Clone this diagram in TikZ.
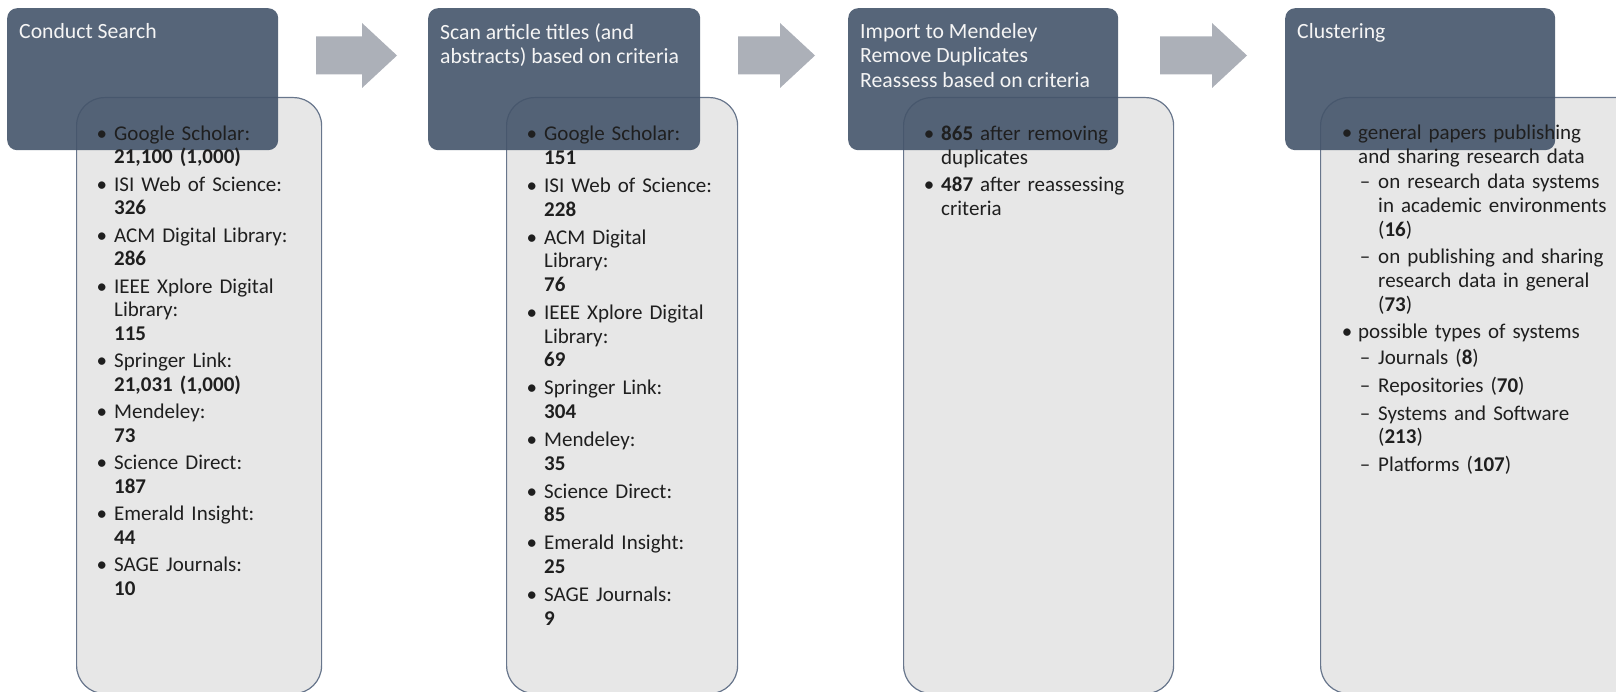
\documentclass[tikz,border=0pt]{standalone}
\usepackage{fontspec}
\setmainfont{Carlito}
\usepackage{enumitem}

\definecolor{headblue}{RGB}{68,84,106}
\definecolor{listgray}{RGB}{231,231,231}
\definecolor{listline}{RGB}{104,118,140}
\definecolor{arrowgray}{RGB}{172,176,184}

% lists inside the grey boxes
\setlist[itemize]{nosep, itemsep=3.8pt, leftmargin=38pt, labelsep=7pt, label=\textbullet}
\setlist[itemize,2]{nosep, topsep=2pt, itemsep=4.2pt, leftmargin=20pt, labelsep=8pt, label=--}

\tikzset{
  headbox/.style={fill=headblue, fill opacity=0.9, rounded corners=10pt, anchor=north west,
    inner sep=0pt, minimum height=142pt},
  headtext/.style={text=white!96!black, anchor=north west, inner sep=0pt, align=left,
    font=\fontsize{21.7}{24.4}\selectfont},
  listbox/.style={draw=listline, line width=1.2pt, fill=listgray, rounded corners=28pt,
    anchor=north west, inner sep=0pt, minimum height=596pt},
  listtext/.style={anchor=north west, inner sep=0pt, text width=#1, text=black!88,
    font=\fontsize{21}{23.6}\selectfont},
  blockarrow/.pic={
    \fill[arrowgray] (0,-19) -- (#1-35,-19) -- (#1-35,-32.5) -- (#1,0)
      -- (#1-35,32.5) -- (#1-35,19) -- (0,19) -- cycle;
  }
}

\begin{document}
\begin{tikzpicture}[x=1pt, y=-1pt]
\useasboundingbox (0,0) rectangle (1616,692);
\clip (0,0) rectangle (1616,692);

% grey result boxes (behind the headers)
\node[listbox, minimum width=245pt] (list1) at (76,97) {};
\node[listbox, minimum width=231pt] (list2) at (506,97) {};
\node[listbox, minimum width=270pt] (list3) at (903,97) {};
\node[listbox, minimum width=330pt] (list4) at (1320,97) {};

% step headers
\node[headbox, minimum width=271pt] (head1) at (7,8) {};
\node[headbox, minimum width=272pt] (head2) at (428,8) {};
\node[headbox, minimum width=270pt] (head3) at (848,8) {};
\node[headbox, minimum width=270pt] (head4) at (1285,8) {};

\node[headtext] (title1) at ([shift={(12,15)}]head1.north west) {Conduct Search};
\node[headtext] (title2) at ([shift={(12,15)}]head2.north west)
  {Scan article titles (and\\abstracts) based on criteria};
\node[headtext] (title3) at ([shift={(12,15)}]head3.north west)
  {Import to Mendeley\\Remove Duplicates\\Reassess based on criteria};
\node[headtext] (title4) at ([shift={(12,15)}]head4.north west) {Clustering};

% arrows between the steps
\pic at (316,55.5) {blockarrow=81};
\pic at (738,55.5) {blockarrow=77};
\pic at (1160,55.5) {blockarrow=87};

% counts per source
\node[listtext=235pt] (items1) at ([shift={(0,19.5)}]list1.north west) {%
\begin{itemize}
\item Google Scholar:\\\textbf{21,100 (1,000)}
\item ISI Web of Science:\\\textbf{326}
\item ACM Digital Library:\\\textbf{286}
\item IEEE Xplore Digital\\Library:\\\textbf{115}
\item Springer Link:\\\textbf{21,031 (1,000)}
\item Mendeley:\\\textbf{73}
\item Science Direct:\\\textbf{187}
\item Emerald Insight:\\\textbf{44}
\item SAGE Journals:\\\textbf{10}
\end{itemize}};

\node[listtext=230pt] (items2) at ([shift={(0,20)}]list2.north west) {%
\begin{itemize}[itemsep=4.5pt]
\item Google Scholar:\\\textbf{151}
\item ISI Web of Science:\\\textbf{228}
\item ACM Digital\\Library:\\\textbf{76}
\item IEEE Xplore Digital\\Library:\\\textbf{69}
\item Springer Link:\\\textbf{304}
\item Mendeley:\\\textbf{35}
\item Science Direct:\\\textbf{85}
\item Emerald Insight:\\\textbf{25}
\item SAGE Journals:\\\textbf{9}
\end{itemize}};

\node[listtext=265pt] (items3) at ([shift={(0,20)}]list3.north west) {%
\begin{itemize}
\item \textbf{865} after removing\\duplicates
\item \textbf{487} after reassessing\\criteria
\end{itemize}};

\node[listtext=320pt] (items4) at ([shift={(0,19)}]list4.north west) {%
\begin{itemize}[labelsep=6pt, itemsep=4.2pt]
\item general papers publishing\\and sharing research data
  \begin{itemize}
  \item on research data systems\\in academic environments\\(\textbf{16})
  \item on publishing and sharing\\research data in general\\(\textbf{73})
  \end{itemize}
\item possible types of systems
  \begin{itemize}
  \item Journals (\textbf{8})
  \item Repositories (\textbf{70})
  \item Systems and Software\\(\textbf{213})
  \item Platforms (\textbf{107})
  \end{itemize}
\end{itemize}};
\end{tikzpicture}
\end{document}
